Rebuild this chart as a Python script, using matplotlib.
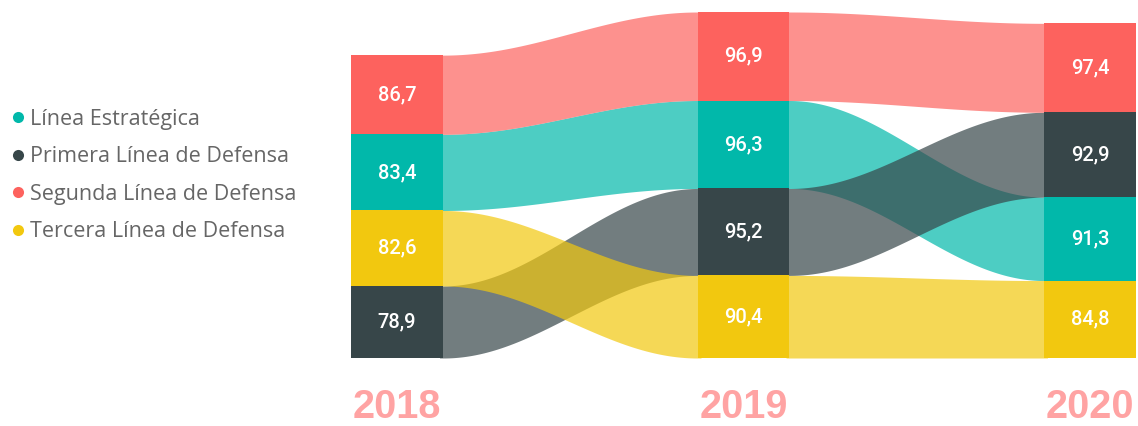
import numpy as np
import matplotlib
matplotlib.use("Agg")
import matplotlib.pyplot as plt
from matplotlib.lines import Line2D

years = ["2018", "2019", "2020"]
series = ["Línea Estratégica", "Primera Línea de Defensa",
          "Segunda Línea de Defensa", "Tercera Línea de Defensa"]
linea = [83.4, 96.3, 91.3]
primera = [78.9, 95.2, 92.9]
segunda = [86.7, 96.9, 97.4]
tercera = [82.6, 90.4, 84.8]
colors = ["#01B8AA", "#374649", "#FD625E", "#F2C80F"]

values = [linea, primera, segunda, tercera]
W, H = 1138, 426
bar_w = 0.2655


def stack_positions(values):
    # for every year: bottom of each series, largest on top
    bottoms = []
    for j in range(len(years)):
        order = sorted(range(len(values)), key=lambda k: values[k][j])
        b = {}
        acc = 0.0
        for k in order:
            b[k] = acc
            acc += values[k][j]
        bottoms.append(b)
    return bottoms


fig = plt.figure(figsize=(W / 100, H / 100), dpi=100)
ax = fig.add_axes([351 / W, 68 / H, 785 / W, 346 / H])
ax.set_xlim(-bar_w / 2, 2 + bar_w / 2)
ax.set_ylim(0, 378.8)
ax.axis("off")

bottoms = stack_positions(values)

# ribbons between years (pad a little into the bars to hide seams)
pad = 0.01
for k, vals in enumerate(values):
    for j in range(len(years) - 1):
        x0, x1 = j + bar_w / 2, j + 1 - bar_w / 2
        xs = np.linspace(x0, x1, 200)
        t = (1 - np.cos(np.pi * (xs - x0) / (x1 - x0))) / 2
        xs = np.concatenate([[x0 - pad], xs, [x1 + pad]])
        t = np.concatenate([[0], t, [1]])
        b0, b1 = bottoms[j][k], bottoms[j + 1][k]
        lo = b0 + (b1 - b0) * t
        hi = (b0 + vals[j]) + ((b1 + vals[j + 1]) - (b0 + vals[j])) * t
        ax.fill_between(xs, lo, hi, color=colors[k], alpha=0.7, linewidth=0)

# bars with labels
for k, vals in enumerate(values):
    for j in range(len(years)):
        ax.bar(j, vals[j], bottom=bottoms[j][k], width=bar_w, color=colors[k], linewidth=0)
        ax.text(j, bottoms[j][k] + vals[j] / 2, f"{vals[j]:.1f}".replace(".", ","),
                ha="center", va="center", color="white", fontsize=14.5,
                family="Roboto", fontweight="medium")

for j, yr in enumerate(years):
    ax.text(j, -65.5, yr, ha="center", va="baseline", color="#FFA3A3",
            fontsize=28.5, fontweight="bold", family="Liberation Sans", clip_on=False)

handles = [Line2D([], [], marker="o", linestyle="", markersize=8, color=c,
                  markeredgewidth=0) for c in colors]
fig.legend(handles, series, loc="upper left", bbox_to_anchor=(6 / W, 1 - 109 / H),
           frameon=False, handletextpad=0.0, handlelength=1.1, labelspacing=0.76,
           prop={"family": "Open Sans", "size": 15.5}, labelcolor="#666666",
           borderaxespad=0, borderpad=0)

fig.savefig("out.png", dpi=100)
